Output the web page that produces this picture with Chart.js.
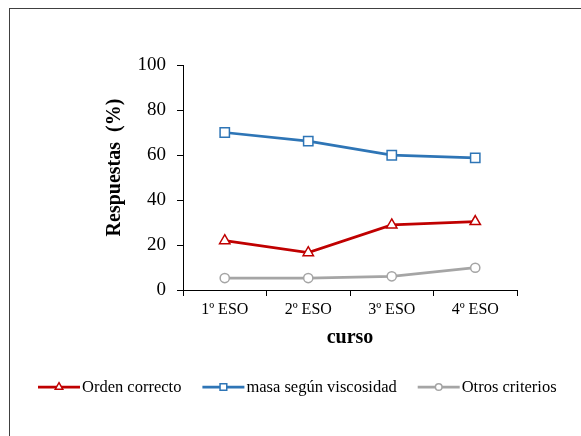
<!DOCTYPE html>
<html>
<head>
<meta charset="utf-8">
<script src="https://cdn.jsdelivr.net/npm/chart.js@4/dist/chart.umd.min.js"></script>
<style>
  html, body { margin: 0; padding: 0; background: #fff; }
  canvas { display: block; }
</style>
</head>
<body>
<canvas id="chart" width="581" height="436"></canvas>
<script>
// datos
const cursos = ['1º ESO', '2º ESO', '3º ESO', '4º ESO'];
const ordenCorrecto = [21.9, 16.6, 28.9, 30.4];
const masaViscosidad = [70.0, 66.2, 59.9, 58.7];
const otrosCriterios = [5.3, 5.3, 6.1, 9.9];
const yTicks = [0, 20, 40, 60, 80, 100];

const serif = 'Liberation Serif, Times New Roman, serif';

// marco del área del gráfico
const framePlugin = {
  id: 'frame',
  beforeDraw(chart) {
    const ctx = chart.ctx;
    ctx.save();
    ctx.strokeStyle = '#404040';
    ctx.lineWidth = 1;
    ctx.strokeRect(9.5, 8.5, 700, 600);
    ctx.restore();
  }
};

// leyenda con línea + marcador
const legendPlugin = {
  id: 'lineLegend',
  afterDraw(chart) {
    const ctx = chart.ctx;
    const y = 387;
    let x = 38;
    ctx.save();
    ctx.font = '16.5px ' + serif;
    ctx.textBaseline = 'middle';
    chart.data.datasets.forEach(ds => {
      ctx.strokeStyle = ds.borderColor;
      ctx.lineWidth = 2.75;
      ctx.beginPath();
      ctx.moveTo(x, y);
      ctx.lineTo(x + 42, y);
      ctx.stroke();
      ctx.fillStyle = '#fff';
      ctx.lineWidth = 1.5;
      Chart.helpers.drawPoint(ctx, {
        pointStyle: ds.pointStyle,
        radius: ds.pointRadius * 0.72,
        rotation: 0,
        borderWidth: 1.5
      }, x + 21, y);
      ctx.fillStyle = '#000';
      ctx.fillText(ds.label, x + 44, y + 1);
      x += 44 + ctx.measureText(ds.label).width + 21;
    });
    ctx.restore();
  }
};

function serie(label, data, color, style, r) {
  return {
    label: label,
    data: data,
    borderColor: color,
    backgroundColor: color,
    borderWidth: 2.75,
    pointStyle: style,
    pointRadius: r,
    pointHoverRadius: r,
    pointBorderWidth: 1.5,
    pointBorderColor: color,
    pointBackgroundColor: '#fff',
    tension: 0
  };
}

new Chart(document.getElementById('chart'), {
  type: 'line',
  data: {
    labels: cursos,
    datasets: [
      serie('Orden correcto', ordenCorrecto, '#C00000', 'triangle', 6),
      serie('masa según viscosidad', masaViscosidad, '#2E75B6', 'rect', 6.6),
      serie('Otros criterios', otrosCriterios, '#A5A5A5', 'circle', 4.6)
    ]
  },
  options: {
    responsive: false,
    animation: false,
    layout: { padding: { left: 103, top: 65, right: 64, bottom: 86 } },
    plugins: {
      legend: { display: false },
      tooltip: { enabled: false }
    },
    scales: {
      x: {
        offset: true,
        grid: { offset: true, drawOnChartArea: false, tickLength: 6, color: '#000' },
        border: { color: '#000', width: 1 },
        ticks: { font: { family: serif, size: 16 }, color: '#000', padding: 4 },
        title: { display: true, text: 'curso', font: { family: serif, size: 20, weight: 'bold' }, color: '#000', padding: 0 },
        afterFit(scale) { scale.height = 60; }
      },
      y: {
        min: 0,
        max: 100,
        afterBuildTicks(scale) { scale.ticks = yTicks.map(v => ({ value: v })); },
        grid: { drawOnChartArea: false, tickLength: 6, color: '#000' },
        border: { color: '#000', width: 1 },
        ticks: { font: { family: serif, size: 19 }, color: '#000', padding: 11 },
        // espacios iniciales para subir el título como en el original
        title: { display: true, text: '    Respuestas  (%)', font: { family: serif, size: 20, weight: 'bold' }, color: '#000', padding: 0 },
        afterFit(scale) { scale.width = 80; }
      }
    }
  },
  plugins: [framePlugin, legendPlugin]
});
</script>
</body>
</html>
